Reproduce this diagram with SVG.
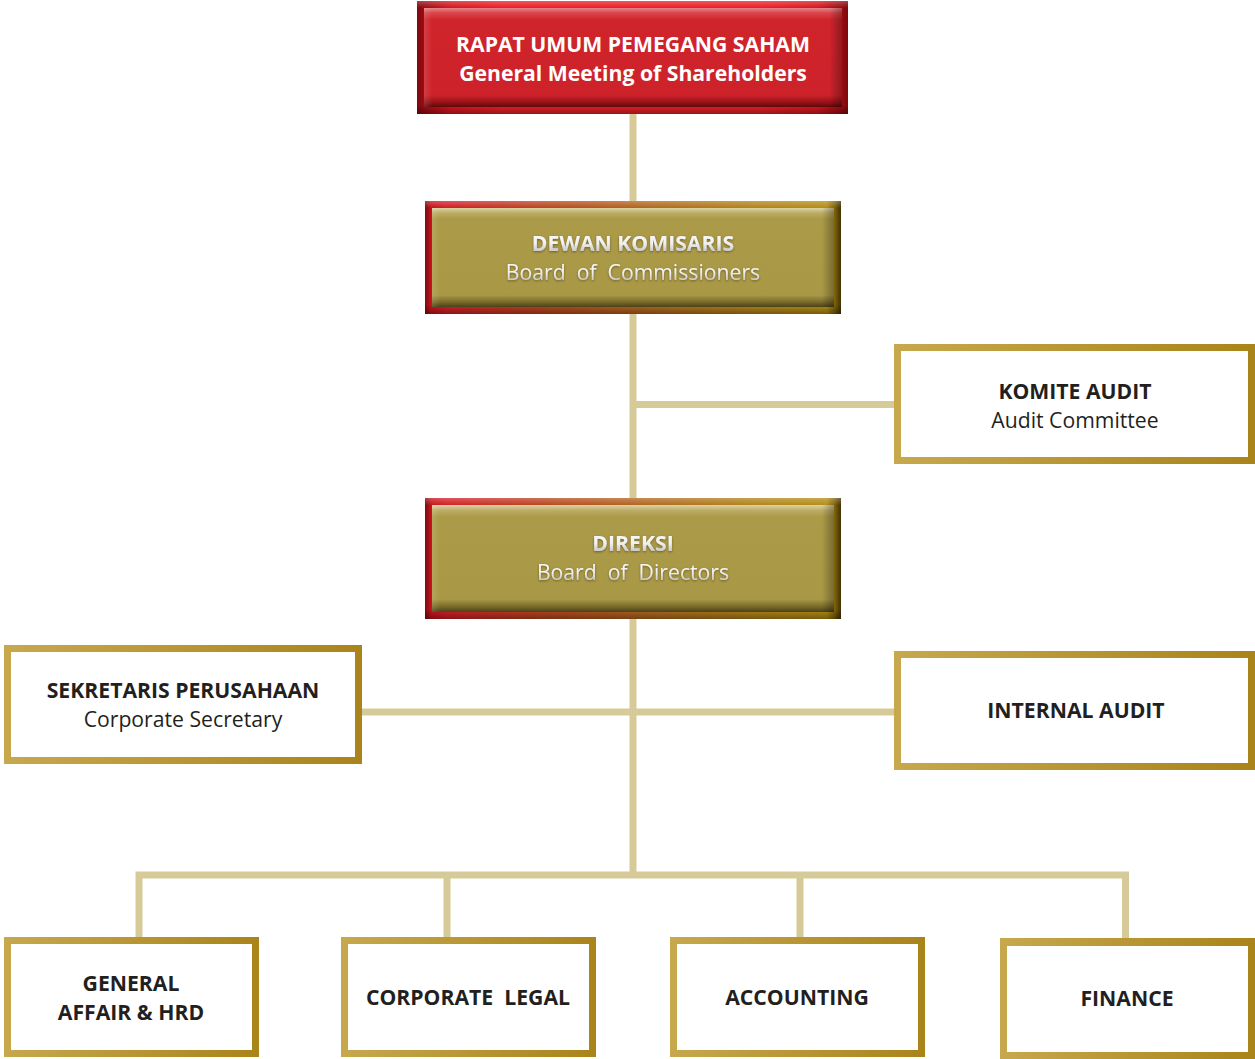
<svg xmlns="http://www.w3.org/2000/svg" width="1255" height="1059" viewBox="0 0 1255 1059">
<style>
.t{font-family:"Open Sans","Liberation Sans",sans-serif;font-size:21.2px;text-anchor:middle}
.b{font-weight:700}
.dk{fill:#231f20}
.wt{fill:url(#txtW);filter:url(#ts)}
.wr{fill:#ffffff}
.conn{fill:none;stroke:#d6cb98;stroke-width:7;stroke-linejoin:miter;stroke-linecap:butt}
</style>
<defs>
<linearGradient id="gold" x1="0" y1="0" x2="1" y2="0">
<stop offset="0" stop-color="#c7a84d"/>
<stop offset="1" stop-color="#a9841a"/>
</linearGradient>
<linearGradient id="redFrame" x1="0" y1="0" x2="1" y2="0">
<stop offset="0" stop-color="#7e080c"/>
<stop offset="0.017" stop-color="#9c0c12"/>
<stop offset="0.08" stop-color="#d8161e"/>
<stop offset="0.2" stop-color="#ea1f27"/>
<stop offset="0.8" stop-color="#ea1f27"/>
<stop offset="0.93" stop-color="#d8161e"/>
<stop offset="0.983" stop-color="#9c0c12"/>
<stop offset="1" stop-color="#7e080c"/>
</linearGradient>
<linearGradient id="redPanel" x1="0" y1="0" x2="0" y2="1">
<stop offset="0" stop-color="#e6868a"/>
<stop offset="0.05" stop-color="#d9454b"/>
<stop offset="0.12" stop-color="#d0242b"/>
<stop offset="0.88" stop-color="#cd222a"/>
<stop offset="0.95" stop-color="#9a1318"/>
<stop offset="1" stop-color="#5e080b"/>
</linearGradient>
<linearGradient id="mixFrame" x1="0" y1="0" x2="1" y2="0">
<stop offset="0" stop-color="#7a0b0f"/>
<stop offset="0.015" stop-color="#c6141c"/>
<stop offset="0.05" stop-color="#d21f27"/>
<stop offset="0.3" stop-color="#b8481f"/>
<stop offset="0.55" stop-color="#b06a1e"/>
<stop offset="0.8" stop-color="#b2841a"/>
<stop offset="0.965" stop-color="#b38d14"/>
<stop offset="0.985" stop-color="#7e610a"/>
<stop offset="1" stop-color="#3f3104"/>
</linearGradient>
<linearGradient id="frameShade" x1="0" y1="0" x2="0" y2="1">
<stop offset="0" stop-color="#ffffff" stop-opacity="0.25"/>
<stop offset="0.06" stop-color="#ffffff" stop-opacity="0"/>
<stop offset="0.92" stop-color="#000000" stop-opacity="0"/>
<stop offset="1" stop-color="#000000" stop-opacity="0.35"/>
</linearGradient>
<linearGradient id="olivePanel" x1="0" y1="0" x2="0" y2="1">
<stop offset="0" stop-color="#ddd3a6"/>
<stop offset="0.05" stop-color="#bcad66"/>
<stop offset="0.11" stop-color="#ab9a48"/>
<stop offset="0.88" stop-color="#a99846"/>
<stop offset="0.95" stop-color="#796b2b"/>
<stop offset="1" stop-color="#4a4118"/>
</linearGradient>
<linearGradient id="sideShade" x1="0" y1="0" x2="1" y2="0">
<stop offset="0" stop-color="#ffffff" stop-opacity="0.12"/>
<stop offset="0.02" stop-color="#ffffff" stop-opacity="0"/>
<stop offset="0.97" stop-color="#000000" stop-opacity="0"/>
<stop offset="1" stop-color="#000000" stop-opacity="0.3"/>
</linearGradient>
<linearGradient id="txtW" x1="0" y1="0" x2="0" y2="1">
<stop offset="0" stop-color="#ffffff"/>
<stop offset="0.55" stop-color="#f0f0f0"/>
<stop offset="1" stop-color="#aeaeae"/>
</linearGradient>
<filter id="ts" x="-10%" y="-30%" width="120%" height="160%">
<feDropShadow dx="0" dy="1" stdDeviation="0.8" flood-color="#3a3210" flood-opacity="0.55"/>
</filter>
</defs>

<g id="connectors">
<path class="conn" d="M633,114 V875"/>
<path class="conn" d="M633,404.5 H896"/>
<path class="conn" d="M360,712 H896"/>
<path class="conn" d="M139,938 V875 H1125.5 V940"/>
<path class="conn" d="M447,875 V938"/>
<path class="conn" d="M800,875 V938"/>
</g>

<g id="rups">
<rect x="417" y="1" width="431" height="113" fill="url(#redFrame)"/>
<rect x="417" y="1" width="431" height="113" fill="url(#frameShade)"/>
<rect x="424" y="8" width="418" height="99" fill="url(#redPanel)"/>
<rect x="424" y="8" width="418" height="99" fill="url(#sideShade)"/>
<text class="t b wr" x="633" y="51.5">RAPAT UMUM PEMEGANG SAHAM</text>
<text class="t b wr" x="633" y="80.5">General Meeting of Shareholders</text>
</g>

<g id="dewan-komisaris">
<rect x="425" y="201" width="416" height="113" fill="url(#mixFrame)"/>
<rect x="425" y="201" width="416" height="113" fill="url(#frameShade)"/>
<rect x="432" y="208" width="402" height="99" fill="url(#olivePanel)"/>
<rect x="432" y="208" width="402" height="99" fill="url(#sideShade)"/>
<text class="t b wt" x="633" y="250.5">DEWAN KOMISARIS</text>
<text class="t wt" x="633" y="279.5" xml:space="preserve">Board  of  Commissioners</text>
</g>

<g id="komite-audit">
<rect x="894" y="344" width="361" height="120" fill="url(#gold)"/>
<rect x="901" y="351" width="347" height="106" fill="#ffffff"/>
<text class="t b dk" x="1075" y="398.5">KOMITE AUDIT</text>
<text class="t dk" x="1075" y="427.5">Audit Committee</text>
</g>

<g id="direksi">
<rect x="425" y="498" width="416" height="121" fill="url(#mixFrame)"/>
<rect x="425" y="498" width="416" height="121" fill="url(#frameShade)"/>
<rect x="432" y="505" width="402" height="107" fill="url(#olivePanel)"/>
<rect x="432" y="505" width="402" height="107" fill="url(#sideShade)"/>
<text class="t b wt" x="633" y="550.5">DIREKSI</text>
<text class="t wt" x="633" y="579.5" xml:space="preserve">Board  of  Directors</text>
</g>

<g id="sekretaris-perusahaan">
<rect x="4" y="645" width="358" height="119" fill="url(#gold)"/>
<rect x="11" y="652" width="344" height="105" fill="#ffffff"/>
<text class="t b dk" x="183" y="697.5">SEKRETARIS PERUSAHAAN</text>
<text class="t dk" x="183" y="726.5">Corporate Secretary</text>
</g>

<g id="internal-audit">
<rect x="894" y="651" width="361" height="119" fill="url(#gold)"/>
<rect x="901" y="658" width="347" height="105" fill="#ffffff"/>
<text class="t b dk" x="1076" y="718">INTERNAL AUDIT</text>
</g>

<g id="general-affair-hrd">
<rect x="4" y="937" width="255" height="120" fill="url(#gold)"/>
<rect x="11" y="944" width="241" height="106" fill="#ffffff"/>
<text class="t b dk" x="131" y="990.5">GENERAL</text>
<text class="t b dk" x="131" y="1019.5">AFFAIR &amp; HRD</text>
</g>

<g id="corporate-legal">
<rect x="341" y="937" width="255" height="120" fill="url(#gold)"/>
<rect x="348" y="944" width="241" height="106" fill="#ffffff"/>
<text class="t b dk" x="468" y="1005" xml:space="preserve">CORPORATE  LEGAL</text>
</g>

<g id="accounting">
<rect x="670" y="937" width="255" height="120" fill="url(#gold)"/>
<rect x="677" y="944" width="241" height="106" fill="#ffffff"/>
<text class="t b dk" x="797" y="1005">ACCOUNTING</text>
</g>

<g id="finance">
<rect x="1000" y="938" width="255" height="121" fill="url(#gold)"/>
<rect x="1007" y="946" width="241" height="106" fill="#ffffff"/>
<text class="t b dk" x="1127" y="1006">FINANCE</text>
</g>
</svg>
